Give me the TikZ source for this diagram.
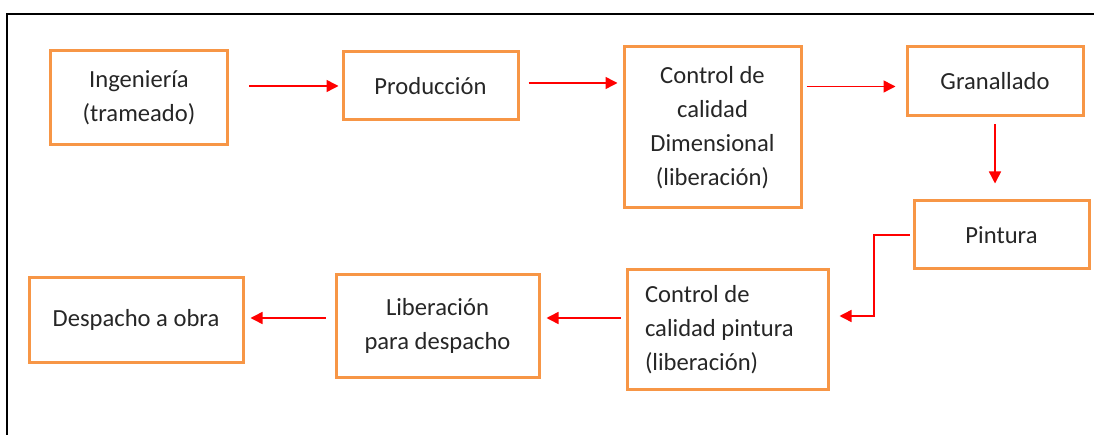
\documentclass[tikz,border=0pt]{standalone}
\usepackage{fontspec}
\setmainfont{Carlito}
\usetikzlibrary{arrows.meta}
\definecolor{boxorange}{HTML}{F79646}
\definecolor{txt}{HTML}{262626}
\tikzset{
  procbox/.style={draw=boxorange, line width=3pt, rectangle, align=center, inner sep=0pt,
    text=txt, font=\fontsize{24.6}{34}\selectfont},
  arr/.style={draw=red, line width=1.5pt, -{Triangle[length=12pt,width=12pt]}},
}
\begin{document}
\begin{tikzpicture}[x=1pt,y=-1pt]
\useasboundingbox (0,0) rectangle (1094,435);
\draw[line width=2pt] (7,436) -- (7,14) -- (1095,14);

\node[procbox, minimum width=177pt, minimum height=94pt] (ing) at (139,98) {Ingeniería\\(trameado)};
\node[procbox, minimum width=175pt, minimum height=68pt] (prod) at (430.5,86) {Producción};
\node[procbox, minimum width=177pt, minimum height=161pt] (ccd) at (712.5,127.5) {Control de\\calidad\\Dimensional\\(liberación)};
\node[procbox, minimum width=176pt, minimum height=69pt] (gran) at (995,81.5) {Granallado};
\node[procbox, minimum width=175pt, minimum height=68pt] (pint) at (1001.5,235) {Pintura};
\node[procbox, minimum width=201pt, minimum height=119pt, text width=165pt, align=flush left] (ccp) at (727.5,329.5) {Control de\\calidad pintura\\(liberación)};
\node[procbox, minimum width=203pt, minimum height=102pt] (lib) at (437.5,326) {Liberación\\para despacho};
\node[procbox, minimum width=214pt, minimum height=84pt] (desp) at (136,320) {Despacho a obra};

\coordinate (k) at (874,316);
\coordinate (r2) at (600,318);

\draw[arr, shorten <=20pt, shorten >=3pt] (ing.east |- prod.west) -- (prod.west);
\draw[arr, shorten <=9pt, shorten >=5pt] ([yshift=3pt]prod.east) -- ([yshift=3pt]prod.east -| ccd.west);
\draw[arr, shorten <=4pt, shorten >=10pt] ([yshift=-5pt]gran.west -| ccd.east) -- ([yshift=-5pt]gran.west);
\draw[arr, shorten <=7pt, shorten >=16pt] (gran.south) -- (gran.south |- pint.north);
\draw[arr] ([xshift=-3pt]pint.west) -| (k) -- ([xshift=10pt]ccp.east |- k);
\draw[arr, shorten <=5pt, shorten >=6pt] (ccp.west |- r2) -- (lib.east |- r2);
\draw[arr, shorten <=9pt, shorten >=6pt] (lib.west |- r2) -- (desp.east |- r2);
\end{tikzpicture}
\end{document}
